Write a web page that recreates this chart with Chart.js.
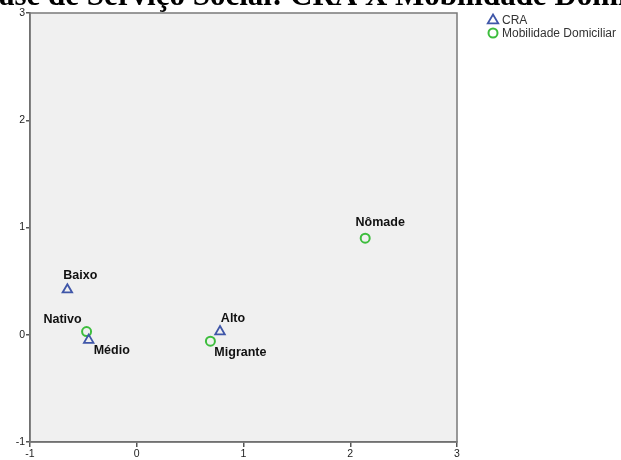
<!DOCTYPE html>
<html>
<head>
<meta charset="utf-8">
<script src="https://cdn.jsdelivr.net/npm/chart.js@4.4.1/dist/chart.umd.min.js"></script>
<style>
  html, body { margin: 0; padding: 0; background: #ffffff; }
  #wrap { width: 621px; height: 460px; position: relative; }
</style>
</head>
<body>
<div id="wrap"><canvas id="chart"></canvas></div>
<script>
// Category points (dimension 1 x dimension 2)
const CRA_LABELS = ['Baixo', 'Médio', 'Alto'];
const CRA_X = [-0.65, -0.45, 0.78];
const CRA_Y = [0.42, -0.05, 0.03];

const MOB_LABELS = ['Nativo', 'Migrante', 'Nômade'];
const MOB_X = [-0.47, 0.69, 2.14];
const MOB_Y = [0.03, -0.06, 0.90];

const AXIS_TICKS = [-1, 0, 1, 2, 3];
const TITLE = 'ase de Serviço Social: CRA X Mobilidade Domiciliar';

// where each point label sits relative to its marker (px)
const LABEL_OFFSET = {
    'Baixo': [13, -14], 'Médio': [23, 10], 'Alto': [13, -13],
    'Nativo': [-24, -12], 'Migrante': [30, 11], 'Nômade': [15, -16]
};

const toPoints = (xs, ys, labels) => xs.map((x, i) => ({ x: x, y: ys[i], label: labels[i] }));

function markerPath(ctx, style, x, y, r) {
    ctx.beginPath();
    if (style === 'triangle') {
        ctx.moveTo(x, y - r);
        ctx.lineTo(x + r * 0.95, y + r * 0.6);
        ctx.lineTo(x - r * 0.95, y + r * 0.6);
        ctx.closePath();
    } else {
        ctx.arc(x, y, r, 0, Math.PI * 2);
    }
}

const plotFrame = {
    id: 'plotFrame',
    beforeDraw(chart) {
        const { ctx, chartArea: a } = chart;
        ctx.save();
        ctx.fillStyle = '#f0f0f0';
        ctx.fillRect(a.left, a.top, a.right - a.left, a.bottom - a.top);
        ctx.restore();
    },
    afterDraw(chart) {
        const { ctx, chartArea: a } = chart;
        ctx.save();
        ctx.strokeStyle = '#7a7a7a';
        ctx.lineWidth = 1.5;
        ctx.strokeRect(a.left, a.top, a.right - a.left, a.bottom - a.top);

        // point labels
        ctx.font = 'bold 12.5px "Liberation Sans", Arial, sans-serif';
        ctx.fillStyle = '#111111';
        ctx.textAlign = 'center';
        ctx.textBaseline = 'middle';
        chart.data.datasets.forEach((ds, di) => {
            chart.getDatasetMeta(di).data.forEach((el, i) => {
                const lbl = ds.data[i].label;
                const off = LABEL_OFFSET[lbl] || [0, -12];
                ctx.fillText(lbl, el.x + off[0], el.y + off[1]);
            });
        });

        // legend
        ctx.font = '12px "Liberation Sans", Arial, sans-serif';
        ctx.textAlign = 'left';
        chart.data.datasets.forEach((ds, di) => {
            const y = 20 + di * 13;
            ctx.strokeStyle = ds.borderColor;
            ctx.lineWidth = ds.borderWidth;
            markerPath(ctx, ds.pointStyle, 493, y, ds.pointRadius);
            ctx.stroke();
            ctx.fillStyle = '#333333';
            ctx.fillText(ds.label, 502, y + 1);
        });

        // title, wider than the page and clipped at the top
        ctx.font = 'bold 31px "Liberation Serif", "Times New Roman", serif';
        ctx.fillStyle = '#000000';
        ctx.textBaseline = 'alphabetic';
        ctx.fillText(TITLE, -1, 4.5);
        ctx.restore();
    }
};

new Chart(document.getElementById('chart'), {
    type: 'scatter',
    data: {
        datasets: [
            {
                label: 'CRA',
                data: toPoints(CRA_X, CRA_Y, CRA_LABELS),
                pointStyle: 'triangle',
                pointRadius: 5.5,
                borderWidth: 1.8,
                borderColor: '#3f56a8',
                backgroundColor: 'rgba(0,0,0,0)'
            },
            {
                label: 'Mobilidade Domiciliar',
                data: toPoints(MOB_X, MOB_Y, MOB_LABELS),
                pointStyle: 'circle',
                pointRadius: 4.5,
                borderWidth: 2,
                borderColor: '#3dbd3d',
                backgroundColor: 'rgba(0,0,0,0)'
            }
        ]
    },
    options: {
        responsive: true,
        maintainAspectRatio: false,
        animation: false,
        layout: { padding: { top: 13, right: 164, left: 0, bottom: 0 } },
        scales: {
            x: {
                type: 'linear',
                min: -1,
                max: 3,
                afterBuildTicks: scale => { scale.ticks = AXIS_TICKS.map(v => ({ value: v })); },
                afterFit: scale => { scale.height = 18; },
                ticks: {
                    padding: 1,
                    color: '#222222',
                    font: { family: '"Liberation Sans", Arial, sans-serif', size: 10.5 }
                },
                grid: { drawOnChartArea: false, drawTicks: true, tickLength: 5, color: '#555555', lineWidth: 1.5 },
                border: { display: true, color: '#555555', width: 1.5 }
            },
            y: {
                type: 'linear',
                min: -1,
                max: 3,
                afterBuildTicks: scale => { scale.ticks = AXIS_TICKS.map(v => ({ value: v })); },
                afterFit: scale => { scale.width = 30; },
                ticks: {
                    padding: 1,
                    color: '#222222',
                    font: { family: '"Liberation Sans", Arial, sans-serif', size: 10.5 }
                },
                grid: { drawOnChartArea: false, drawTicks: true, tickLength: 4, color: '#555555', lineWidth: 1.5 },
                border: { display: true, color: '#555555', width: 1.5 }
            }
        },
        plugins: {
            legend: { display: false },
            tooltip: { enabled: false }
        }
    },
    plugins: [plotFrame]
});
</script>
</body>
</html>
